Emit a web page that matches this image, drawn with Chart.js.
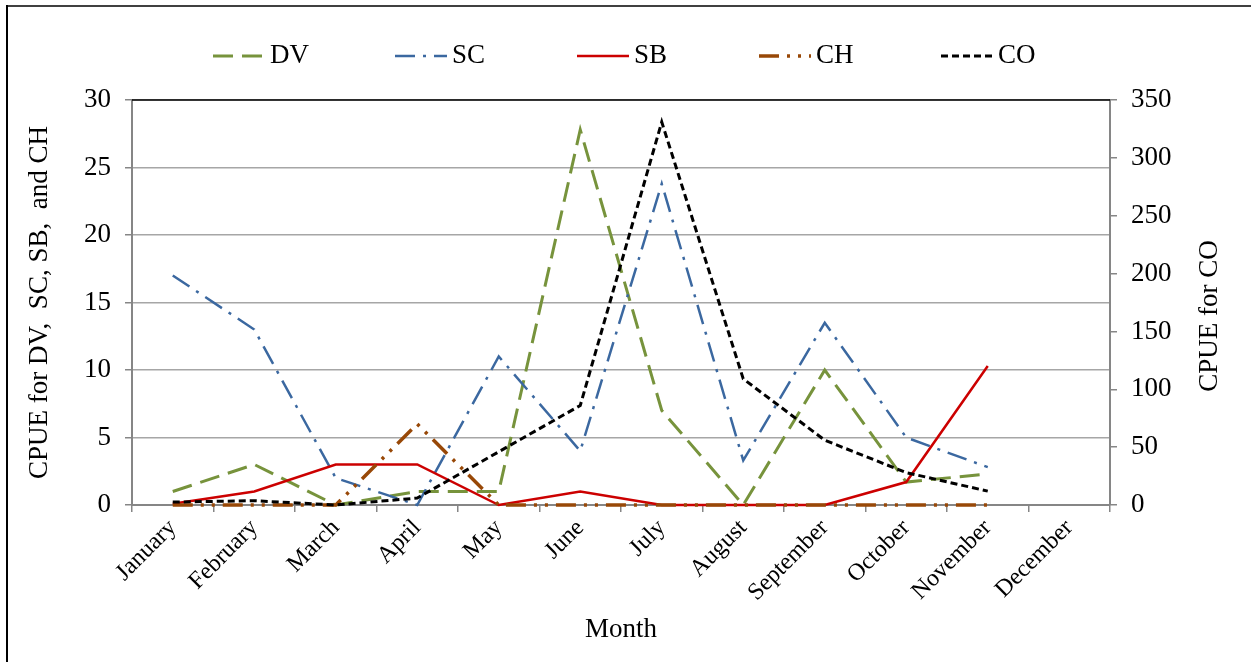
<!DOCTYPE html>
<html>
<head>
<meta charset="utf-8">
<script src="https://cdn.jsdelivr.net/npm/chart.js@4/dist/chart.umd.min.js"></script>
<style>
  html, body { margin: 0; padding: 0; background: #fff; }
  #wrap { width: 1251px; height: 662px; }
</style>
</head>
<body>
<div id="wrap"><canvas id="canvas" width="1251" height="662"></canvas></div>
<script>
// data
const months = ['January','February','March','April','May','June','July','August','September','October','November','December'];
const dv = [1, 3, 0, 1, 1, 27.8, 7, 0, 10, 1.7, 2.3, null];
const sc = [17, 13, 2, 0, 11, 4, 23.8, 3.3, 13.5, 5, 2.8, null];
const sb = [0.1, 1, 3, 3, 0, 1, 0, 0, 0, 1.7, 10.3, null];
const ch = [0, 0, 0, 6, 0, 0, 0, 0, 0, 0, 0, null];
const co = [2.5, 3.7, 0, 6, 46, 86, 331, 109, 56, 28, 12, null];
const leftTicks = [0, 30, 5];
const rightTicks = [0, 350, 50];

const FONT = '"Liberation Serif", "Times New Roman", serif';
const GRID = '#a6a6a6';
const AXIS = '#868686';

function line(label, values, color, dash, width, order, axis) {
  return {
    label: label,
    data: values,
    borderColor: color,
    backgroundColor: color,
    borderDash: dash,
    borderWidth: width,
    pointRadius: 0,
    tension: 0,
    fill: false,
    clip: false,
    order: order,
    yAxisID: axis
  };
}

// frame, black top edge of plot, legend and right title
const decor = {
  id: 'decor',
  afterDraw(chart) {
    const ctx = chart.ctx;
    const a = chart.chartArea;
    ctx.save();
    // outer frame
    ctx.lineWidth = 2;
    ctx.strokeStyle = '#404040';
    ctx.beginPath(); ctx.moveTo(6, 6); ctx.lineTo(1251, 6); ctx.stroke();
    ctx.strokeStyle = '#000';
    ctx.beginPath(); ctx.moveTo(7, 5); ctx.lineTo(7, 662); ctx.stroke();
    // plot top
    ctx.lineWidth = 1.5;
    ctx.beginPath(); ctx.moveTo(a.left, a.top); ctx.lineTo(a.right, a.top); ctx.stroke();

    // legend
    ctx.font = '27px ' + FONT;
    ctx.textBaseline = 'middle';
    ctx.fillStyle = '#000';
    chart.data.datasets.forEach((ds, i) => {
      const x0 = 213 + i * 182;
      ctx.strokeStyle = ds.borderColor;
      ctx.lineWidth = ds.borderWidth;
      ctx.setLineDash(ds.borderDash);
      ctx.beginPath(); ctx.moveTo(x0, 56); ctx.lineTo(x0 + 52, 56); ctx.stroke();
      ctx.setLineDash([]);
      ctx.fillText(ds.label, x0 + 57, 56);
    });

    // right axis title, read bottom to top as in the original
    ctx.translate(1210, 316);
    ctx.rotate(-Math.PI / 2);
    ctx.textAlign = 'center';
    ctx.fillText('CPUE for CO', 0, 0);
    ctx.restore();
  }
};

new Chart(document.getElementById('canvas'), {
  type: 'line',
  data: {
    labels: months,
    datasets: [
      line('DV', dv, '#77933c', [20, 9], 3, 4, 'y'),
      line('SC', sc, '#3b68a0', [20, 8, 3, 8], 2.5, 3, 'y'),
      line('SB', sb, '#cc0000', [], 2.5, 2, 'y'),
      line('CH', ch, '#984807', [20, 8, 3, 8, 3, 8], 3.5, 1, 'y'),
      line('CO', co, '#000000', [7, 4], 3, 0, 'y1')
    ]
  },
  options: {
    responsive: false,
    animation: false,
    spanGaps: false,
    layout: { padding: { top: 100, left: 0, right: 0, bottom: 0 } },
    plugins: {
      legend: { display: false },
      tooltip: { enabled: false }
    },
    scales: {
      x: {
        type: 'category',
        offset: true,
        afterFit: s => { s.height = 157; },
        grid: { display: true, offset: true, drawOnChartArea: false, tickLength: 7, color: AXIS, lineWidth: 1.5 },
        border: { color: AXIS, width: 2 },
        ticks: {
          autoSkip: false, minRotation: 45, maxRotation: 45, padding: 2,
          color: '#000', font: { family: FONT, size: 24 }
        },
        title: { display: true, text: 'Month', color: '#000', font: { family: FONT, size: 27 }, padding: { top: 0, bottom: 16 } }
      },
      y: {
        position: 'left',
        min: leftTicks[0], max: leftTicks[1],
        afterFit: s => { s.width = 132; },
        grid: { color: GRID, lineWidth: 1.5, tickLength: 7, tickColor: AXIS },
        border: { color: AXIS, width: 2 },
        ticks: { stepSize: leftTicks[2], padding: 14, color: '#000', font: { family: FONT, size: 27 } },
        title: { display: true, text: 'CPUE for DV,  SC, SB,  and CH', color: '#000', font: { family: FONT, size: 27 }, padding: { top: 24, bottom: 0 } }
      },
      y1: {
        position: 'right',
        min: rightTicks[0], max: rightTicks[1],
        afterFit: s => { s.width = 141; },
        grid: { drawOnChartArea: false, tickLength: 7, color: AXIS, lineWidth: 1.5 },
        border: { color: AXIS, width: 2 },
        ticks: { stepSize: rightTicks[2], padding: 14, color: '#000', font: { family: FONT, size: 27 } }
      }
    }
  },
  plugins: [decor]
});
</script>
</body>
</html>
